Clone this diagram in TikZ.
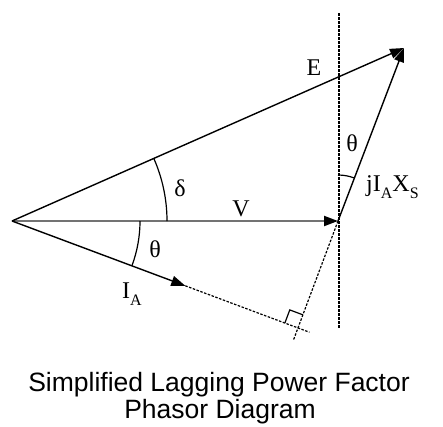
\documentclass[tikz,border=0pt]{standalone}
\usepackage{fontspec}
\setmainfont{Liberation Serif}
\newfontfamily\capfont{Liberation Sans}
\usetikzlibrary{arrows.meta,calc}
\begin{document}
\begin{tikzpicture}[x=1pt,y=-1pt,
  vec/.style={line width=1.4pt,-{Triangle[length=14pt,width=10pt]}},
  vvec/.style={line width=2pt,black!55,-{Triangle[length=14pt,width=10pt,color=black,fill=black]}},
  aux/.style={line width=1.2pt,dash pattern=on 2.5pt off 1.5pt},
  thinline/.style={line width=1.2pt},
  lbl/.style={inner sep=0pt,font=\fontsize{24}{24}\selectfont},
  captext/.style={inner sep=0pt,font=\capfont\fontsize{26.5}{27}\selectfont}]
\useasboundingbox (0,0) rectangle (443,426);
\coordinate (O) at (12,221);
\coordinate (P) at (338,221);
\coordinate (E) at (404,48);
\coordinate (A) at (185.3,285.8);
\coordinate (F) at ($(O)!(P)!(A)$);
\coordinate (Ft) at (339,13);
\coordinate (Fb) at (339,328);
\coordinate (Fend) at ($(O)!1.04!(F)$);
\coordinate (Pend) at ($(P)!1.12!(F)$);
\coordinate (S1) at ($(F)!14pt!(O)$);
\coordinate (S2) at ($(F)!14pt!(P)$);
\coordinate (S3) at ($(S1)+(S2)-(F)$);
% auxiliary lines
\draw[aux] (Ft) -- (Fb);
\draw[aux] (A) -- (Fend);
\draw[aux] (P) -- (Pend);
\draw[thinline] (S1) -- (S3) -- (S2);
% vectors
\draw[vvec] (O) -- (P);
\draw[vec] (O) -- (E);
\draw[vec] (O) -- (A);
\draw[vec] (P) -- (E);
% arcs
\draw[thinline] ($(O)+(155,0)$) arc[start angle=0,end angle=-23.87,radius=155];
\draw[thinline] ($(O)+(128,0)$) arc[start angle=0,end angle=20.5,radius=128];
\draw[thinline] ($(P)+(0,-46)$) arc[start angle=-90,end angle=-69.5,radius=46];
% labels
\node[lbl] (lE) at (314,68) {E};
\node[lbl] (ld) at (180,188) {δ};
\node[lbl] (lV) at (241,209) {V};
\node[lbl] (lt1) at (155,249) {θ};
\node[lbl] (lt2) at (352,143) {θ};
\node[lbl,anchor=base west] (lIA) at (122,298) {I\raisebox{-7pt}{\fontsize{16}{16}\selectfont A}};
\node[lbl,anchor=base west] (lX) at (366,191) {jI\raisebox{-7pt}{\fontsize{16}{16}\selectfont A}X\raisebox{-7pt}{\fontsize{16}{16}\selectfont S}};
\node[captext,anchor=base] (c1) at (219,391) {Simplified Lagging Power Factor};
\node[captext,anchor=base] (c2) at (220,418) {Phasor Diagram};
\end{tikzpicture}
\end{document}
